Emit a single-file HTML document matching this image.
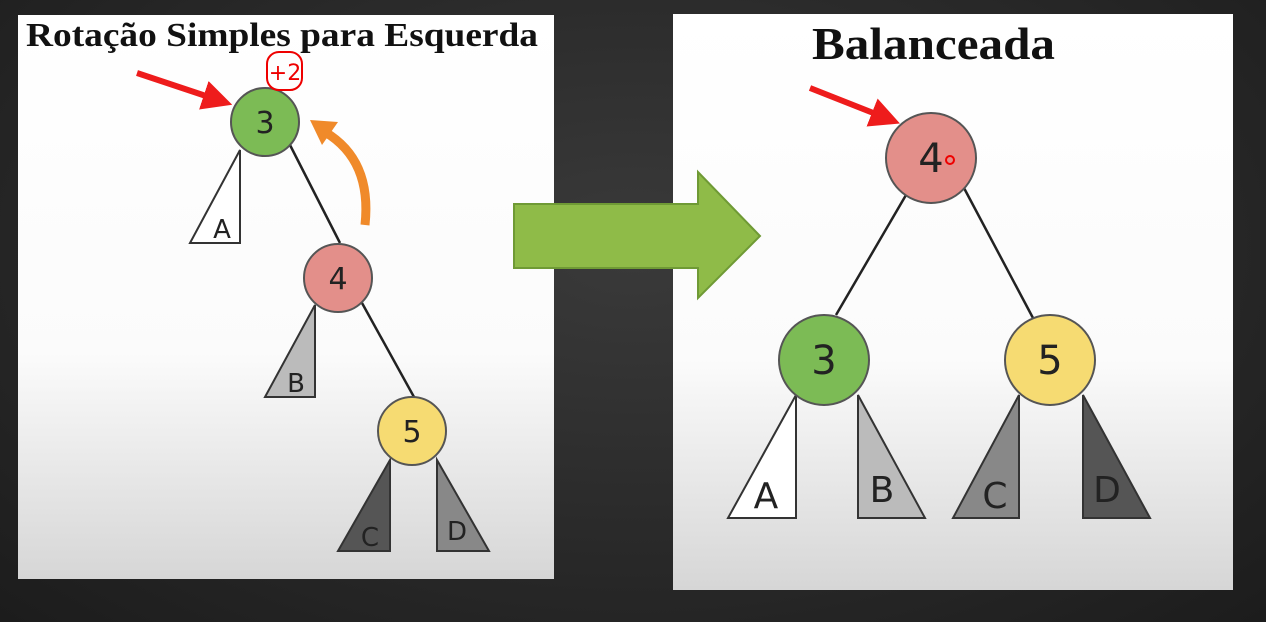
<!DOCTYPE html>
<html><head><style>
body{margin:0;width:1266px;height:622px;overflow:hidden;background:radial-gradient(ellipse at 50% 40%,#3a3a3a,#1c1c1c);}
svg{position:absolute;left:0;top:0}
</style></head><body>
<svg width="1266" height="622" xmlns="http://www.w3.org/2000/svg">
<defs>
<linearGradient id="pg" x1="0" y1="0" x2="0" y2="1">
<stop offset="0" stop-color="#fff"/><stop offset="0.6" stop-color="#fbfbfb"/><stop offset="1" stop-color="#d6d6d6"/>
</linearGradient>
<marker id="rh" markerWidth="5" markerHeight="5" refX="2.5" refY="2.5" orient="auto"><path d="M0,0 L5,2.5 L0,5 z" fill="#ee1c1c"/></marker>
</defs>
<rect x="18" y="15" width="536" height="564" fill="url(#pg)"/>
<rect x="673" y="14" width="560" height="576" fill="url(#pg)"/>
<text x="26" y="46" textLength="512" lengthAdjust="spacingAndGlyphs" font-family="Liberation Serif" font-weight="bold" font-size="34" fill="#111">Rotação Simples para Esquerda</text>
<text x="812" y="59" textLength="243" lengthAdjust="spacingAndGlyphs" font-family="Liberation Serif" font-weight="bold" font-size="46" fill="#111">Balanceada</text>
<g stroke="#222" stroke-width="2.5"><line x1="290" y1="145" x2="340" y2="243"/><line x1="362" y1="303" x2="414" y2="397"/>
<line x1="906" y1="195" x2="836" y2="315"/><line x1="964" y1="188" x2="1033" y2="318"/></g>
<g stroke="#333" stroke-width="2">
<polygon points="240,150 190,243 240,243" fill="#fff"/>
<polygon points="315,305 265,397 315,397" fill="#bbb"/>
<polygon points="390,460 338,551 390,551" fill="#555"/>
<polygon points="437,460 437,551 489,551" fill="#888"/>
<polygon points="796,395 728,518 796,518" fill="#fff"/>
<polygon points="858,395 858,518 925,518" fill="#bbb"/>
<polygon points="1019,395 953,518 1019,518" fill="#888"/>
<polygon points="1083,395 1083,518 1150,518" fill="#555"/>
</g>
<g font-family="DejaVu Sans" text-anchor="middle" fill="#222">
<text x="222" y="238" font-size="26">A</text><text x="296" y="392" font-size="26">B</text>
<text x="370" y="546" font-size="26">C</text><text x="457" y="540" font-size="26">D</text>
<text x="766" y="508" font-size="36">A</text><text x="882" y="502" font-size="36">B</text>
<text x="995" y="508" font-size="36">C</text><text x="1107" y="502" font-size="36">D</text>
</g>
<g stroke="#555" stroke-width="2">
<circle cx="265" cy="122" r="34" fill="#7cbb55"/>
<circle cx="338" cy="278" r="34" fill="#e38f8a"/>
<circle cx="412" cy="431" r="34" fill="#f6db72"/>
<circle cx="931" cy="158" r="45" fill="#e38f8a"/>
<circle cx="824" cy="360" r="45" fill="#7cbb55"/>
<circle cx="1050" cy="360" r="45" fill="#f6db72"/>
</g>
<g font-family="DejaVu Sans" text-anchor="middle" fill="#222">
<text x="265" y="133" font-size="30">3</text><text x="338" y="289" font-size="30">4</text><text x="412" y="442" font-size="30">5</text>
<text x="931" y="172" font-size="40">4</text><text x="824" y="374" font-size="40">3</text><text x="1050" y="374" font-size="40">5</text>
</g>
<circle cx="950" cy="160" r="4" fill="none" stroke="#e00" stroke-width="2"/>
<path d="M514,204 H698 V172 L760,236 L698,298 V268 H514 Z" fill="#8fbb48" stroke="#6f9a35" stroke-width="2"/>
<line x1="137" y1="73" x2="218" y2="100" stroke="#ee1c1c" stroke-width="6" marker-end="url(#rh)"/>
<line x1="810" y1="88" x2="886" y2="118" stroke="#ee1c1c" stroke-width="6" marker-end="url(#rh)"/>
<path d="M365,225 Q372,160 325,132" fill="none" stroke="#f08a2a" stroke-width="9"/>
<polygon points="310,120 338,122 322,145" fill="#f08a2a"/>
<rect x="267" y="52" width="35" height="38" rx="12" fill="none" stroke="#e00" stroke-width="2"/>
<text x="285" y="80" text-anchor="middle" font-family="DejaVu Sans" font-size="22" fill="#e00">+2</text>
</svg>
</body></html>
